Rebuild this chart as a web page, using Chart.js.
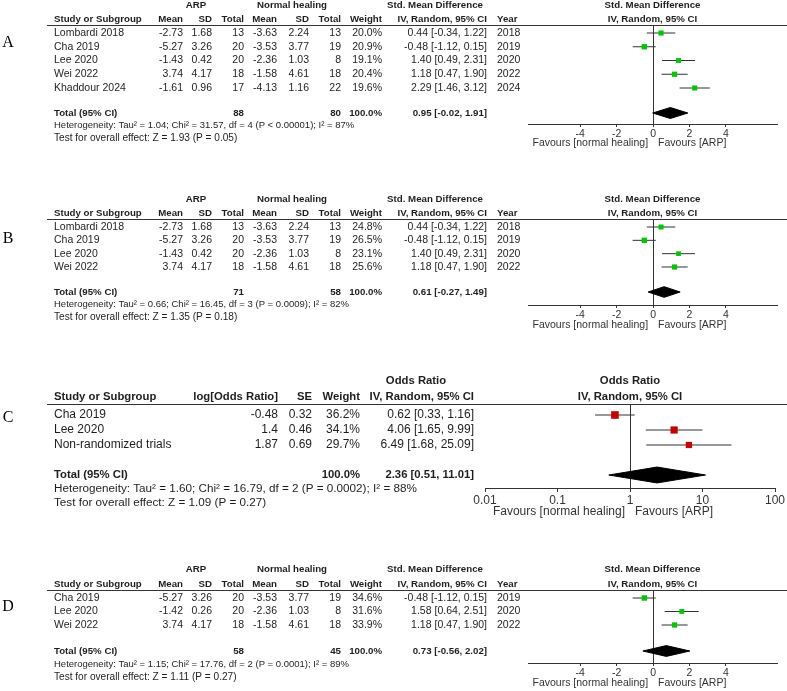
<!DOCTYPE html>
<html>
<head>
<meta charset="utf-8">
<script src="https://cdn.jsdelivr.net/npm/chart.js@4.4.0/dist/chart.umd.min.js"></script>
<style>
html, body { margin: 0; padding: 0; background: #fff; }
#wrap { position: relative; width: 787px; height: 691px; }
canvas { position: absolute; left: 0; top: 0; }
</style>
</head>
<body>
<div id="wrap">
<canvas id="cA" width="787" height="691"></canvas>
<canvas id="cB" width="787" height="691"></canvas>
<canvas id="cC" width="787" height="691"></canvas>
<canvas id="cD" width="787" height="691"></canvas>
</div>
<script>
// panel A - all five studies
const studiesA = ['Lombardi 2018', 'Cha 2019', 'Lee 2020', 'Wei 2022', 'Khaddour 2024'];
const arpMeanA = [-2.73, -5.27, -1.43, 3.74, -1.61];
const arpSdA = [1.68, 3.26, 0.42, 4.17, 0.96];
const arpNA = [13, 20, 20, 18, 17];
const nhMeanA = [-3.63, -3.53, -2.36, -1.58, -4.13];
const nhSdA = [2.24, 3.77, 1.03, 4.61, 1.16];
const nhNA = [13, 19, 8, 18, 22];
const weightA = [20.0, 20.9, 19.1, 20.4, 19.6];
const smdA = [0.44, -0.48, 1.40, 1.18, 2.29];
const loA = [-0.34, -1.12, 0.49, 0.47, 1.46];
const hiA = [1.22, 0.15, 2.31, 1.90, 3.12];
const yearA = [2018, 2019, 2020, 2022, 2024];
const totalA = [0.95, -0.02, 1.91];
const totalNA = [88, 80];
const hetA = 'Heterogeneity: Tau² = 1.04; Chi² = 31.57, df = 4 (P < 0.00001); I² = 87%';
const testA = 'Test for overall effect: Z = 1.93 (P = 0.05)';

// panel B
const studiesB = ['Lombardi 2018', 'Cha 2019', 'Lee 2020', 'Wei 2022'];
const arpMeanB = [-2.73, -5.27, -1.43, 3.74];
const arpSdB = [1.68, 3.26, 0.42, 4.17];
const arpNB = [13, 20, 20, 18];
const nhMeanB = [-3.63, -3.53, -2.36, -1.58];
const nhSdB = [2.24, 3.77, 1.03, 4.61];
const nhNB = [13, 19, 8, 18];
const weightB = [24.8, 26.5, 23.1, 25.6];
const smdB = [0.44, -0.48, 1.40, 1.18];
const loB = [-0.34, -1.12, 0.49, 0.47];
const hiB = [1.22, 0.15, 2.31, 1.90];
const yearB = [2018, 2019, 2020, 2022];
const totalB = [0.61, -0.27, 1.49];
const totalNB = [71, 58];
const hetB = 'Heterogeneity: Tau² = 0.66; Chi² = 16.45, df = 3 (P = 0.0009); I² = 82%';
const testB = 'Test for overall effect: Z = 1.35 (P = 0.18)';

// panel C - odds ratios
const studiesC = ['Cha 2019', 'Lee 2020', 'Non-randomized trials'];
const logOrC = [-0.48, 1.4, 1.87];
const seC = [0.32, 0.46, 0.69];
const weightC = [36.2, 34.1, 29.7];
const orC = [0.62, 4.06, 6.49];
const loC = [0.33, 1.65, 1.68];
const hiC = [1.16, 9.99, 25.09];
const totalC = [2.36, 0.51, 11.01];
const hetC = 'Heterogeneity: Tau² = 1.60; Chi² = 16.79, df = 2 (P = 0.0002); I² = 88%';
const testC = 'Test for overall effect: Z = 1.09 (P = 0.27)';

// panel D
const studiesD = ['Cha 2019', 'Lee 2020', 'Wei 2022'];
const arpMeanD = [-5.27, -1.42, 3.74];
const arpSdD = [3.26, 0.26, 4.17];
const arpND = [20, 20, 18];
const nhMeanD = [-3.53, -2.36, -1.58];
const nhSdD = [3.77, 1.03, 4.61];
const nhND = [19, 8, 18];
const weightD = [34.6, 31.6, 33.9];
const smdD = [-0.48, 1.58, 1.18];
const loD = [-1.12, 0.64, 0.47];
const hiD = [0.15, 2.51, 1.90];
const yearD = [2019, 2020, 2022];
const totalD = [0.73, -0.56, 2.02];
const totalND = [58, 45];
const hetD = 'Heterogeneity: Tau² = 1.15; Chi² = 17.76, df = 2 (P = 0.0001); I² = 89%';
const testD = 'Test for overall effect: Z = 1.11 (P = 0.27)';

const smdTicks = [-4, -2, 0, 2, 4];
const orTicks = [0.01, 0.1, 1, 10, 100];

const W = 787, H = 691, AXH = 20;
const FAM = '"Liberation Sans", Arial, sans-serif';

function f2(v) { return v.toFixed(2); }
function ci(e, l, h) { return f2(e) + ' [' + f2(l) + ', ' + f2(h) + ']'; }

function smdPanel(studies, am, asd, an, nm, nsd, nn, w, est, lo, hi, yr, tot, totN, het, test) {
    return {
        studies: studies, weight: w, est: est, lo: lo, hi: hi, total: tot,
        het: het, test: test,
        fs: 10.5, fsb: 9.7, hetFs: 9.5, testFs: 10.1, color: '#00c800', sq: 3.8, dh: 0.4,
        plotL: 528, plotR: 777, xMin: -6.87, xMax: 6.81, log: false, ticks: smdTicks, nullV: 0,
        h1: 20, h2: 6, hetDy: 12, testDy: 25, favDy: 19, tickLen: 3, tickPad: 1,
        head1: [['ARP', 196, 'center'], ['Normal healing', 292, 'center'], ['Std. Mean Difference', 435, 'center']],
        head2: [['Study or Subgroup', 54, 'left'], ['Mean', 183, 'right'], ['SD', 212, 'right'], ['Total', 244, 'right'],
                ['Mean', 277, 'right'], ['SD', 309, 'right'], ['Total', 341, 'right'], ['Weight', 382, 'right'],
                ['IV, Random, 95% CI', 487, 'right'], ['Year', 497, 'left']],
        cols: [[i => studies[i], 54, 'left'], [i => f2(am[i]), 183, 'right'], [i => f2(asd[i]), 212, 'right'],
               [i => String(an[i]), 244, 'right'], [i => f2(nm[i]), 277, 'right'], [i => f2(nsd[i]), 309, 'right'],
               [i => String(nn[i]), 341, 'right'], [i => w[i].toFixed(1) + '%', 382, 'right'],
               [i => ci(est[i], lo[i], hi[i]), 487, 'right'], [i => String(yr[i]), 497, 'left']],
        totalCols: [['Total (95% CI)', 54, 'left'], [String(totN[0]), 244, 'right'], [String(totN[1]), 341, 'right'],
                    ['100.0%', 382, 'right'], [ci(tot[0], tot[1], tot[2]), 487, 'right']],
        plotHead: ['Std. Mean Difference', 'IV, Random, 95% CI']
    };
}

const panelA = Object.assign(smdPanel(studiesA, arpMeanA, arpSdA, arpNA, nhMeanA, nhSdA, nhNA, weightA, smdA, loA, hiA, yearA, totalA, totalNA, hetA, testA),
    {letter: 'A', letterY: 43, top: 25, row0: 33, pitch: 13.75, totalY: 113, axisY: 124});
const panelB = Object.assign(smdPanel(studiesB, arpMeanB, arpSdB, arpNB, nhMeanB, nhSdB, nhNB, weightB, smdB, loB, hiB, yearB, totalB, totalNB, hetB, testB),
    {letter: 'B', letterY: 239, top: 219, row0: 227, pitch: 13.33, totalY: 292, axisY: 305, favDy: 20});
const panelD = Object.assign(smdPanel(studiesD, arpMeanD, arpSdD, arpND, nhMeanD, nhSdD, nhND, weightD, smdD, loD, hiD, yearD, totalD, totalND, hetD, testD),
    {letter: 'D', letterY: 607, top: 590, row0: 598, pitch: 13.5, totalY: 651, axisY: 663, h1: 21, hetDy: 13, testDy: 26, favDy: 20});

const panelC = {
    studies: studiesC, weight: weightC, est: orC, lo: loC, hi: hiC, total: totalC,
    het: hetC, test: testC,
    fs: 12, fsb: 11.3, hetFs: 11.7, testFs: 11.7, color: '#c80000', sq: 5.4, dh: 0.53,
    plotL: 485, plotR: 775, xMin: 0.01, xMax: 100, log: true, ticks: orTicks, nullV: 1,
    h1: 23, h2: 7, hetDy: 14, testDy: 28, favDy: 24, tickLen: 4, tickPad: 1,
    letter: 'C', letterY: 418, top: 404, row0: 415, pitch: 15, totalY: 475, axisY: 488,
    head1: [['Odds Ratio', 416, 'center']],
    head2: [['Study or Subgroup', 54, 'left'], ['log[Odds Ratio]', 278, 'right'], ['SE', 312, 'right'],
            ['Weight', 360, 'right'], ['IV, Random, 95% CI', 474, 'right']],
    cols: [[i => studiesC[i], 54, 'left'], [i => String(logOrC[i]), 278, 'right'], [i => f2(seC[i]), 312, 'right'],
           [i => weightC[i].toFixed(1) + '%', 360, 'right'], [i => ci(orC[i], loC[i], hiC[i]), 474, 'right']],
    totalCols: [['Total (95% CI)', 54, 'left'], ['100.0%', 360, 'right'], [ci(totalC[0], totalC[1], totalC[2]), 474, 'right']],
    plotHead: ['Odds Ratio', 'IV, Random, 95% CI']
};

function drawTable(c, P, tIdx) {
    const ctx = c.ctx, a = c.chartArea, ys = c.scales.y, xs = c.scales.x;
    const put = (t, x, al, y) => { ctx.textAlign = al; ctx.fillText(t, x, y); };
    ctx.save();
    ctx.textBaseline = 'middle';
    ctx.fillStyle = '#000';
    ctx.font = '16px "Liberation Serif", "Times New Roman", serif';
    put(P.letter, 8, 'center', P.letterY);

    ctx.fillStyle = '#1e1e1e';
    ctx.font = 'bold ' + P.fsb + 'px ' + FAM;
    P.head1.forEach(h => put(h[0], h[1], h[2], a.top - P.h1));
    P.head2.forEach(h => put(h[0], h[1], h[2], a.top - P.h2));
    const cx = (a.left + a.right) / 2;
    put(P.plotHead[0], cx, 'center', a.top - P.h1);
    put(P.plotHead[1], cx, 'center', a.top - P.h2);
    const ty = ys.getPixelForValue(tIdx);
    P.totalCols.forEach(h => put(h[0], h[1], h[2], ty));

    ctx.font = P.fs + 'px ' + FAM;
    P.studies.forEach((s, i) => {
        const py = ys.getPixelForValue(i);
        P.cols.forEach(col => put(col[0](i), col[1], col[2], py));
    });
    ctx.font = P.hetFs + 'px ' + FAM;
    put(P.het, 54, 'left', ty + P.hetDy);
    ctx.font = P.testFs + 'px ' + FAM;
    put(P.test, 54, 'left', ty + P.testDy);

    // header rule
    ctx.strokeStyle = '#333';
    ctx.lineWidth = 1;
    ctx.beginPath();
    ctx.moveTo(47, Math.round(a.top) + 0.5);
    ctx.lineTo(W, Math.round(a.top) + 0.5);
    ctx.stroke();

    const zx = xs.getPixelForValue(P.nullV);
    ctx.font = P.fs + 'px ' + FAM;
    ctx.fillStyle = '#333';
    put('Favours [normal healing]', zx - 5, 'right', a.bottom + P.favDy);
    put('Favours [ARP]', zx + 5, 'left', a.bottom + P.favDy);
    ctx.restore();
}

function buildChart(id, P) {
    const yMin = -(P.row0 - P.top) / P.pitch;
    const yMax = yMin + (P.axisY - P.top) / P.pitch;
    const tIdx = (P.totalY - P.row0) / P.pitch;
    const maxW = Math.max(...P.weight);
    const t = P.total;
    const ds = [];
    ds.push({
        label: 'estimate',
        data: P.est.map((e, i) => ({x: e, y: i})),
        pointStyle: 'rect',
        pointRadius: P.weight.map(w => P.sq * w / maxW),
        backgroundColor: P.color, borderColor: P.color, borderWidth: 0,
        order: 0
    });
    P.est.forEach((e, i) => ds.push({
        label: 'ci ' + P.studies[i],
        data: [{x: P.lo[i], y: i}, {x: P.hi[i], y: i}],
        showLine: true, pointRadius: 0, borderColor: '#333', borderWidth: 1,
        order: 1
    }));
    ds.push({
        label: 'total',
        data: [{x: t[1], y: tIdx}, {x: t[0], y: tIdx - P.dh}, {x: t[2], y: tIdx}, {x: t[0], y: tIdx + P.dh}, {x: t[1], y: tIdx}],
        showLine: true, fill: 'shape', pointRadius: 0,
        backgroundColor: '#000', borderColor: '#000', borderWidth: 1,
        order: 2
    });

    return new Chart(document.getElementById(id), {
        type: 'scatter',
        data: {datasets: ds},
        options: {
            responsive: false,
            animation: false,
            events: [],
            layout: {padding: {left: P.plotL, right: W - P.plotR, top: P.top, bottom: H - P.axisY - AXH}},
            plugins: {legend: {display: false}, tooltip: {enabled: false}},
            scales: {
                x: {
                    type: P.log ? 'logarithmic' : 'linear',
                    min: P.xMin, max: P.xMax,
                    afterBuildTicks: s => { s.ticks = P.ticks.map(v => ({value: v})); },
                    afterFit: s => { s.height = AXH; s.paddingLeft = 0; s.paddingRight = 0; },
                    border: {display: true, color: '#333', width: 1},
                    grid: {
                        drawOnChartArea: true,
                        color: c => (c.tick && c.tick.value === P.nullV) ? '#333' : 'rgba(0,0,0,0)',
                        tickColor: '#333', tickLength: P.tickLen, lineWidth: 1
                    },
                    ticks: {
                        color: '#333', padding: P.tickPad, maxRotation: 0, autoSkip: false,
                        font: {family: FAM, size: P.fs},
                        callback: v => String(v)
                    }
                },
                y: {type: 'linear', reverse: true, min: yMin, max: yMax, display: false}
            }
        },
        plugins: [{id: 'table' + id, afterDraw: c => drawTable(c, P, tIdx)}]
    });
}

buildChart('cA', panelA);
buildChart('cB', panelB);
buildChart('cC', panelC);
buildChart('cD', panelD);
</script>
</body>
</html>
